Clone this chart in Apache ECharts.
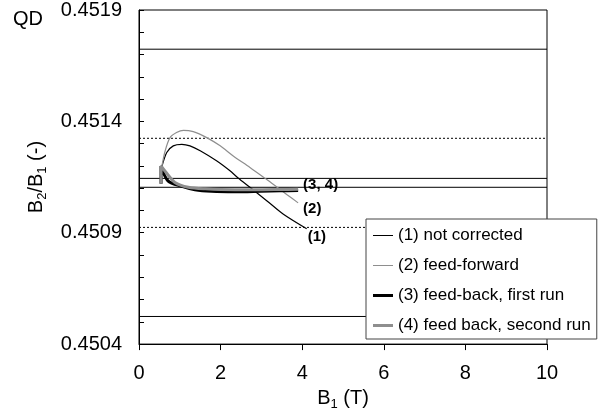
<!DOCTYPE html>
<html>
<head>
<meta charset="utf-8">
<script src="https://cdn.jsdelivr.net/npm/echarts@6/dist/echarts.min.js"></script>
<style>
  html, body { margin: 0; padding: 0; background: #fff; }
  #chart { width: 602px; height: 416px; }
</style>
</head>
<body>
<div id="chart"></div>
<script>
  // B1 (T) and B2/B1
  var b1NotCorr = [0.556, 0.68, 0.84, 1.05, 1.25, 1.50, 1.90, 2.23, 2.43, 2.72, 3.13, 3.54, 4.11];
  var qNotCorr = [0.451193, 0.451260, 0.451290, 0.451297, 0.451290, 0.451268, 0.451223, 0.451178, 0.451146, 0.451104, 0.451044, 0.450983, 0.450918];

  var b1FeedFwd = [0.556, 0.64, 0.76, 0.92, 1.09, 1.33, 1.66, 1.99, 2.31, 2.72, 3.09, 3.33, 3.62, 3.90];
  var qFeedFwd = [0.451193, 0.451267, 0.451327, 0.451350, 0.451360, 0.451354, 0.451327, 0.451290, 0.451245, 0.451193, 0.451144, 0.451112, 0.451072, 0.451034];

  var b1Fb1 = [0.54, 0.54, 0.71, 1.05, 1.37, 1.78, 2.35, 2.97, 3.46, 3.90];
  var qFb1 = [0.45112, 0.45120, 0.451133, 0.451108, 0.451093, 0.451086, 0.451084, 0.451086, 0.451088, 0.451090];

  var b1Fb2 = [0.54, 0.54, 0.64, 0.88, 1.21, 1.62, 2.35, 2.97, 3.46, 3.90];
  var qFb2 = [0.45112, 0.45120, 0.451176, 0.451126, 0.451104, 0.451097, 0.451093, 0.451093, 0.451094, 0.451095];

  var refSolid = [0.451724, 0.451144, 0.451104, 0.450524];
  var refDotted = [0.451324, 0.450924];

  var names = ['(1) not corrected', '(2) feed-forward', '(3) feed-back, first run', '(4) feed back, second run'];
  var endTags = ['(1)', '(2)', '', '(3, 4)'];

  var font = 'Liberation Sans, Arial, sans-serif';
  var gray = '#8e8e8e';

  function zip(xs, ys) {
    return xs.map(function (x, i) { return [x, ys[i]]; });
  }

  var series = [];
  refSolid.forEach(function (v) {
    series.push({
      type: 'line', silent: true, symbol: 'none', z: 1,
      data: [[0, v], [10, v]],
      lineStyle: { color: '#000', width: 1 }
    });
  });
  refDotted.forEach(function (v) {
    series.push({
      type: 'line', silent: true, symbol: 'none', z: 1,
      data: [[0, v], [10, v]],
      lineStyle: { color: '#000', width: 1, type: [2, 2] }
    });
  });

  var curves = [
    { d: zip(b1NotCorr, qNotCorr), c: '#000', w: 1.2, off: [1, 8] },
    { d: zip(b1FeedFwd, qFeedFwd), c: gray, w: 1.2, off: [5, 6] },
    { d: zip(b1Fb1, qFb1), c: '#000', w: 3, off: [0, 0] },
    { d: zip(b1Fb2, qFb2), c: gray, w: 3, off: [5, -4] }
  ];
  curves.forEach(function (cv, i) {
    series.push({
      name: names[i],
      type: 'line',
      symbol: 'none',
      smooth: 0.3,
      z: 3,
      data: cv.d,
      itemStyle: { color: cv.c },
      lineStyle: { color: cv.c, width: cv.w },
      endLabel: {
        show: endTags[i] !== '',
        formatter: endTags[i],
        distance: 0,
        offset: cv.off,
        align: 'left',
        color: '#000',
        fontFamily: font,
        fontWeight: 'bold',
        fontSize: 15
      }
    });
  });

  var thin = 'path://M0,0L20,0L20,1L0,1Z';
  var thick = 'path://M0,0L20,0L20,3L0,3Z';

  var option = {
    animation: false,
    backgroundColor: '#fff',
    textStyle: { fontFamily: font },
    title: {
      text: 'QD', left: 8, top: 4,
      textStyle: { fontFamily: font, fontSize: 20, fontWeight: 'normal', color: '#000' }
    },
    grid: {
      left: 139, right: 55, top: 10, bottom: 70,
      show: true, borderColor: '#000', borderWidth: 1
    },
    legend: {
      orient: 'vertical',
      left: 366, top: 219,
      padding: [8, 6, 5, 7],
      itemWidth: 20, itemHeight: 17, itemGap: 13,
      backgroundColor: '#fff',
      borderColor: '#444', borderWidth: 1,
      textStyle: { fontFamily: font, fontSize: 17, color: '#000', lineHeight: 17, padding: [0, 0, 0, 0] },
      data: [
        { name: names[0], icon: thin, itemStyle: { color: '#000' } },
        { name: names[1], icon: thin, itemStyle: { color: gray } },
        { name: names[2], icon: thick, itemStyle: { color: '#000' } },
        { name: names[3], icon: thick, itemStyle: { color: gray } }
      ]
    },
    xAxis: {
      type: 'value', min: 0, max: 10, interval: 2,
      name: '{n|B}{s|1}{n| (T)}',
      nameLocation: 'middle', nameGap: 36,
      nameTextStyle: {
        rich: {
          n: { fontFamily: font, fontSize: 20, color: '#000', lineHeight: 26, verticalAlign: 'middle' },
          s: { fontFamily: font, fontSize: 13, color: '#000', lineHeight: 13, verticalAlign: 'bottom' }
        }
      },
      axisLine: { lineStyle: { color: '#000', width: 1 } },
      axisTick: { inside: false, length: 6, lineStyle: { color: '#000' } },
      axisLabel: { fontFamily: font, fontSize: 20, color: '#000', margin: 19 },
      splitLine: { show: false }
    },
    yAxis: {
      type: 'value', min: 0.4504, max: 0.4519, interval: 0.0001,
      name: '{n|B}{s|2}{n|/B}{s|1}{n| (-)}',
      nameLocation: 'middle', nameGap: 90,
      nameTextStyle: {
        rich: {
          n: { fontFamily: font, fontSize: 20, color: '#000', lineHeight: 26, verticalAlign: 'middle' },
          s: { fontFamily: font, fontSize: 13, color: '#000', lineHeight: 13, verticalAlign: 'bottom' }
        }
      },
      axisLine: { show: true, lineStyle: { color: '#000', width: 1 } },
      axisTick: { show: true, inside: true, length: 5, lineStyle: { color: '#000' } },
      axisLabel: {
        fontFamily: font, fontSize: 20, color: '#000', margin: 17,
        formatter: function (v) {
          var k = Math.round(v * 10000);
          return (k % 5 === 4) ? (k / 10000).toFixed(4) : '';
        }
      },
      splitLine: { show: false }
    },
    series: series
  };

  var chart = echarts.init(document.getElementById('chart'), null, { renderer: 'canvas' });
  chart.setOption(option);
</script>
</body>
</html>
